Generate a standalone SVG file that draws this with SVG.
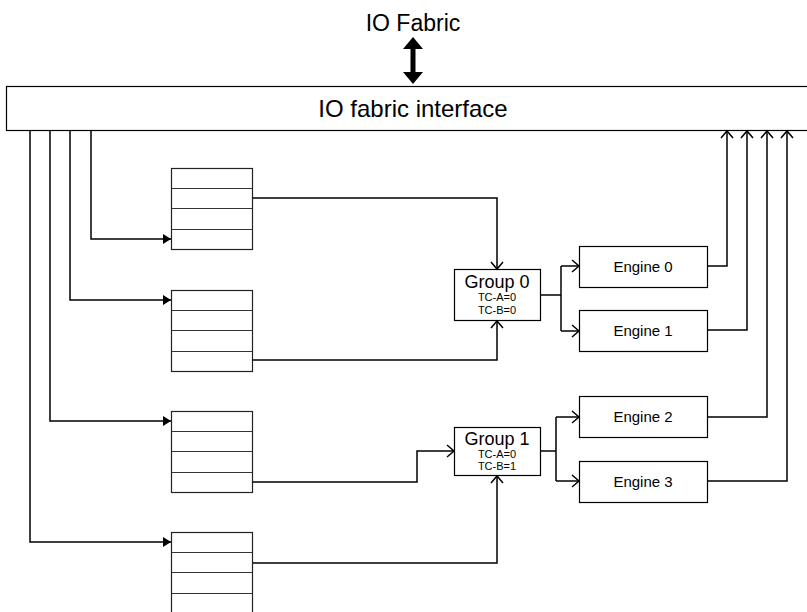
<svg xmlns="http://www.w3.org/2000/svg" width="807" height="612" viewBox="0 0 807 612">
<style>
text{font-family:"Liberation Sans",Arial,sans-serif;fill:#000;text-anchor:middle}
.box{fill:#fff;stroke:#000;stroke-width:1.2}
.q{fill:#fff;stroke:#222;stroke-width:1.2}
.row{stroke:#333;stroke-width:1.2}
.c{fill:none;stroke:#000;stroke-width:1.5}
.big{font-size:23px}
.big2{font-size:24px}
.eng{font-size:15px}
.grp{font-size:18px}
.tc{font-size:11px}
</style>
<defs>
<marker id="open" markerUnits="userSpaceOnUse" markerWidth="10" markerHeight="14" viewBox="0 0 10 14" refX="8" refY="7" orient="auto">
<path d="M1,1 L8,7 L1,13" fill="none" stroke="#000" stroke-width="1.5"/>
</marker>
<marker id="fill" markerUnits="userSpaceOnUse" markerWidth="8" markerHeight="10" viewBox="0 0 8 10" refX="8" refY="5" orient="auto">
<path d="M0,0 L8,5 L0,10 Z" fill="#000"/>
</marker>
</defs>

<g id="io-fabric">
<text class="big" x="413" y="31">IO Fabric</text>
<rect x="410.5" y="47" width="5" height="27" fill="#000"/>
<polygon points="413,37 423,49 403,49" fill="#000"/>
<polygon points="413,84 423,72 403,72" fill="#000"/>
</g>

<g id="interface">
<rect class="box" x="6.5" y="86.5" width="812" height="44" stroke-width="1.5"/>
<text class="big2" x="413" y="117">IO fabric interface</text>
</g>

<g id="queue0">
<rect class="q" x="171.5" y="168.5" width="81" height="81"/>
<line class="row" x1="171.5" y1="188.5" x2="252.5" y2="188.5"/>
<line class="row" x1="171.5" y1="208.5" x2="252.5" y2="208.5"/>
<line class="row" x1="171.5" y1="229.5" x2="252.5" y2="229.5"/>
</g>
<g id="queue1">
<rect class="q" x="171.5" y="290.5" width="81" height="81"/>
<line class="row" x1="171.5" y1="310.5" x2="252.5" y2="310.5"/>
<line class="row" x1="171.5" y1="330.5" x2="252.5" y2="330.5"/>
<line class="row" x1="171.5" y1="351.5" x2="252.5" y2="351.5"/>
</g>
<g id="queue2">
<rect class="q" x="171.5" y="411.5" width="81" height="81"/>
<line class="row" x1="171.5" y1="431.5" x2="252.5" y2="431.5"/>
<line class="row" x1="171.5" y1="451.5" x2="252.5" y2="451.5"/>
<line class="row" x1="171.5" y1="472.5" x2="252.5" y2="472.5"/>
</g>
<g id="queue3">
<rect class="q" x="171.5" y="532.5" width="81" height="82"/>
<line class="row" x1="171.5" y1="552.5" x2="252.5" y2="552.5"/>
<line class="row" x1="171.5" y1="572.5" x2="252.5" y2="572.5"/>
<line class="row" x1="171.5" y1="593.5" x2="252.5" y2="593.5"/>
</g>

<g id="group0">
<rect class="box" x="454.5" y="269.5" width="86" height="51"/>
<text class="grp" x="497" y="288">Group 0</text>
<text class="tc" x="497" y="301">TC-A=0</text>
<text class="tc" x="497" y="314">TC-B=0</text>
</g>
<g id="group1">
<rect class="box" x="454.5" y="427.5" width="86" height="48"/>
<text class="grp" x="497" y="445">Group 1</text>
<text class="tc" x="497" y="458">TC-A=0</text>
<text class="tc" x="497" y="470">TC-B=1</text>
</g>

<g id="engine0">
<rect class="box" x="579.5" y="246.5" width="128" height="41"/>
<text class="eng" x="643" y="272">Engine 0</text>
</g>
<g id="engine1">
<rect class="box" x="579.5" y="310.5" width="128" height="41"/>
<text class="eng" x="643" y="336">Engine 1</text>
</g>
<g id="engine2">
<rect class="box" x="579.5" y="396.5" width="128" height="41"/>
<text class="eng" x="643" y="422">Engine 2</text>
</g>
<g id="engine3">
<rect class="box" x="579.5" y="461.5" width="128" height="41"/>
<text class="eng" x="643" y="487">Engine 3</text>
</g>

<g id="connectors">
<polyline class="c" points="91,131 91,239 171,239" marker-end="url(#fill)"/>
<polyline class="c" points="70,131 70,300 171,300" marker-end="url(#fill)"/>
<polyline class="c" points="50,131 50,421 171,421" marker-end="url(#fill)"/>
<polyline class="c" points="30,131 30,542 171,542" marker-end="url(#fill)"/>

<polyline class="c" points="253,198 497,198 497,269" marker-end="url(#open)"/>
<polyline class="c" points="253,360 497,360 497,321" marker-end="url(#open)"/>
<polyline class="c" points="253,482 417,482 417,451 454,451" marker-end="url(#open)"/>
<polyline class="c" points="253,563 497,563 497,476" marker-end="url(#open)"/>

<line class="c" x1="541" y1="295" x2="561" y2="295"/>
<polyline class="c" points="561,266 561,331"/>
<polyline class="c" points="561,266 579,266" marker-end="url(#open)"/>
<polyline class="c" points="561,331 579,331" marker-end="url(#open)"/>

<line class="c" x1="541" y1="451" x2="556" y2="451"/>
<polyline class="c" points="556,417 556,481"/>
<polyline class="c" points="556,417 579,417" marker-end="url(#open)"/>
<polyline class="c" points="556,481 579,481" marker-end="url(#open)"/>

<polyline class="c" points="708,266 727,266 727,131" marker-end="url(#open)"/>
<polyline class="c" points="708,330 747,330 747,131" marker-end="url(#open)"/>
<polyline class="c" points="708,417 767,417 767,131" marker-end="url(#open)"/>
<polyline class="c" points="708,481 787,481 787,131" marker-end="url(#open)"/>
</g>
</svg>
